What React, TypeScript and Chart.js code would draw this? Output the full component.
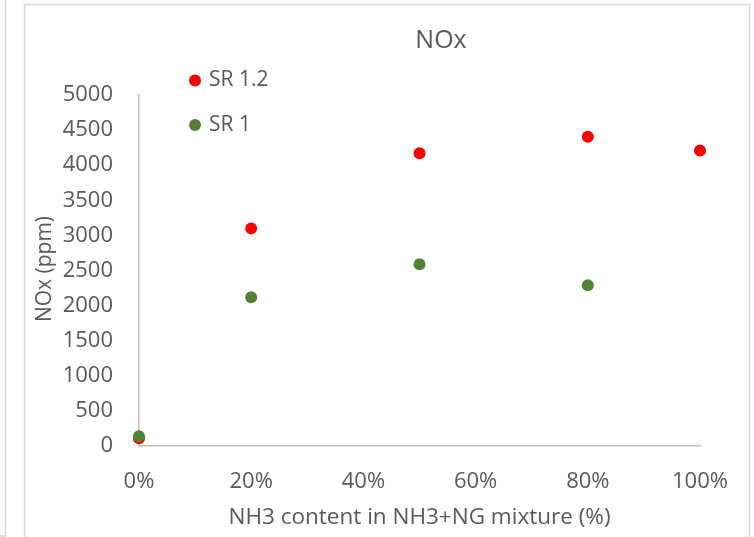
import React, { useEffect, useRef } from "react";
import { Chart, registerables } from "chart.js";

Chart.register(...registerables);

const chartTitle = "NOx";
const xAxisTitle = "NH3 content in NH3+NG mixture (%)";
const yAxisTitle = "NOx (ppm)";
const seriesNames = ["SR 1.2", "SR 1"];
const seriesColors = ["#ff0000", "#548235"];

const sr12X = [0, 0.2, 0.5, 0.8, 1.0];
const sr12Y = [110, 3100, 4170, 4405, 4210];
const sr1X = [0, 0.2, 0.5, 0.8];
const sr1Y = [140, 2120, 2590, 2290];

const yMin = 0;
const yMax = 5000;
const yStep = 500;
const xMin = 0;
const xMax = 1;
const xStep = 0.2;

const FONT = "'Open Sans', 'Liberation Sans', sans-serif";
const TEXT = "#595959";

const decorPlugin = {
  id: "decor",
  beforeDraw(chart: any) {
    const ctx = chart.ctx;
    ctx.save();
    ctx.fillStyle = "#ffffff";
    ctx.fillRect(0, 0, chart.width, chart.height);
    ctx.strokeStyle = "#d9d9d9";
    ctx.lineWidth = 1.5;
    ctx.beginPath();
    ctx.moveTo(24.5, 540);
    ctx.lineTo(24.5, 4.5);
    ctx.lineTo(749.5, 4.5);
    ctx.lineTo(749.5, 540);
    ctx.stroke();
    ctx.beginPath();
    ctx.moveTo(5.5, 0);
    ctx.lineTo(5.5, 536);
    ctx.lineTo(0, 536);
    ctx.stroke();
    ctx.restore();
  },
  afterDraw(chart: any) {
    const ctx = chart.ctx;
    ctx.save();
    // chart title
    ctx.fillStyle = TEXT;
    ctx.textAlign = "center";
    ctx.textBaseline = "middle";
    ctx.font = `25px ${FONT}`;
    ctx.fillText(chartTitle, 441, 41);
    // legend
    const items = [
      { name: seriesNames[0], color: seriesColors[0], y: 80.5 },
      { name: seriesNames[1], color: seriesColors[1], y: 125 },
    ];
    ctx.font = `21px ${FONT}`;
    ctx.textAlign = "left";
    for (const it of items) {
      ctx.fillStyle = it.color;
      ctx.beginPath();
      ctx.arc(195, it.y, 6, 0, Math.PI * 2);
      ctx.fill();
      ctx.fillStyle = TEXT;
      ctx.fillText(it.name, 209, it.y);
    }
    // y axis title
    ctx.translate(45, 269);
    ctx.rotate(-Math.PI / 2);
    ctx.textAlign = "center";
    ctx.font = `21px ${FONT}`;
    ctx.fillStyle = TEXT;
    ctx.fillText(yAxisTitle, 0, 0);
    ctx.restore();
  },
};

export default function App() {
  const ref = useRef<HTMLCanvasElement | null>(null);

  useEffect(() => {
    if (!ref.current) return;
    const chart = new Chart(ref.current, {
      type: "scatter",
      data: {
        datasets: [
          {
            label: seriesNames[0],
            data: sr12X.map((x, i) => ({ x, y: sr12Y[i] })),
            backgroundColor: seriesColors[0],
            borderColor: seriesColors[0],
            pointRadius: 6,
            pointBorderWidth: 0,
            clip: false,
            order: 1,
          },
          {
            label: seriesNames[1],
            data: sr1X.map((x, i) => ({ x, y: sr1Y[i] })),
            backgroundColor: seriesColors[1],
            borderColor: seriesColors[1],
            pointRadius: 6,
            pointBorderWidth: 0,
            clip: false,
            order: 0,
          },
        ],
      },
      options: {
        responsive: false,
        animation: false,
        layout: { padding: { left: 0, right: 54, top: 95, bottom: 0 } },
        plugins: {
          legend: { display: false },
          tooltip: { enabled: false },
          title: { display: false },
        },
        scales: {
          x: {
            type: "linear",
            min: xMin,
            max: xMax,
            grid: { display: false, drawTicks: false },
            border: { display: true, color: "#bfbfbf", width: 1.5 },
            ticks: {
              stepSize: xStep,
              color: TEXT,
              padding: 23,
              font: { family: FONT, size: 22 },
              callback: (v: any) => Math.round(Number(v) * 100) + "%",
            },
            title: {
              display: true,
              text: xAxisTitle,
              color: TEXT,
              font: { family: FONT, size: 22.5 },
              padding: { top: 0, bottom: 6 },
            },
            afterFit: (s: any) => {
              s.height = 91;
            },
          },
          y: {
            type: "linear",
            min: yMin,
            max: yMax,
            grid: { display: false, drawTicks: false },
            border: { display: true, color: "#bfbfbf", width: 1.5 },
            ticks: {
              stepSize: yStep,
              color: TEXT,
              padding: 26,
              font: { family: FONT, size: 22 },
              callback: (v: any) => String(v),
            },
            afterFit: (s: any) => {
              s.width = 139;
            },
          },
        },
      },
      plugins: [decorPlugin],
    });
    return () => chart.destroy();
  }, []);

  return (
    <canvas
      ref={ref}
      width={754}
      height={537}
      style={{ position: "fixed", left: 0, top: 0, display: "block" }}
    />
  );
}
